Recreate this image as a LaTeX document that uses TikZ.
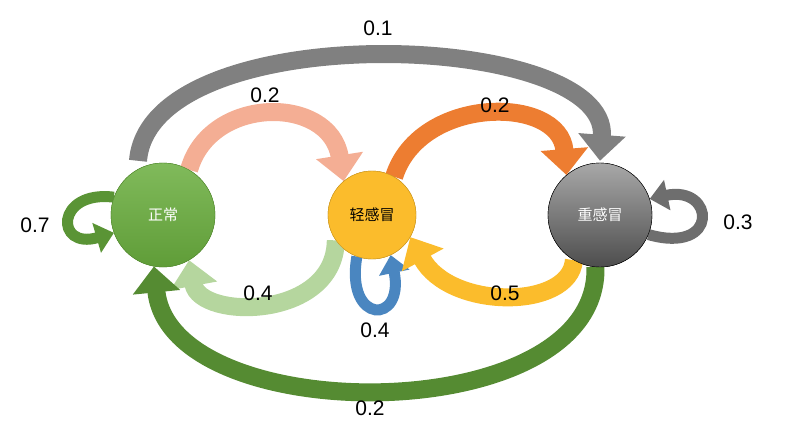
\documentclass[tikz,border=0pt]{standalone}
\usepackage{fontspec}
\setmainfont{Liberation Sans}
\newfontfamily\cjk{Noto Sans CJK SC}
\usetikzlibrary{arrows.meta}
\definecolor{gA}{HTML}{6AAE3E}
\definecolor{yA}{HTML}{FBBC2C}
\definecolor{kA}{HTML}{6E6E6E}
\definecolor{oA}{HTML}{ED7D31}
\definecolor{sA}{HTML}{F4AE94}
\definecolor{bA}{HTML}{4A86C0}
\tikzset{
  st/.style={circle,minimum size=#1,text=white,font=\cjk\fontsize{15}{18}\selectfont},
  fat/.style={line width=18pt,-{Triangle[length=26pt,width=46pt]}},
  loop/.style={line width=11pt,-{Triangle[length=18pt,width=30pt]}},
  lbl/.style={font=\fontsize{21}{25}\selectfont}
}
\begin{document}
\begin{tikzpicture}[x=1pt,y=-1pt]
\useasboundingbox (0,0) rectangle (800,439);
\node[st=104pt,draw=gA!80!black,top color=gA!85!white,bottom color=gA!90!black] (a) at (163,215) {正常};
\node[st=88pt,draw=yA!80!black,fill=yA,text=black] (b) at (372,215) {轻感冒};
\node[st=104pt,draw=black,top color=kA!60!white,bottom color=kA!70!black] (c) at (600,215) {重感冒};
\draw[fat,color=gray] ([shift={(-25,-2)}]a.north) .. controls (150,15) and (610,30) .. ([shift={(0,-2)}]c.north);
\draw[fat,color=sA] (a.60) .. controls (210,95) and (330,95) .. (b.130);
\draw[fat,color=oA] (b.60) .. controls (420,95) and (560,95) .. (c.130);
\draw[loop,color=gA!85!black] (a.160) .. controls (55,190) and (55,250) .. (a.200);
\draw[fat,color=gA!50!white] (b.215) .. controls (335,320) and (200,320) .. (a.-60);
\draw[loop,color=bA] (b.250) .. controls (345,325) and (405,325) .. (b.-65);
\draw[fat,color=yA] (c.240) .. controls (570,310) and (450,310) .. (b.-30);
\draw[loop,color=kA] (c.-22) .. controls (720,255) and (715,185) .. (c.18);
\draw[fat,color=gA!80!black] (c.265) .. controls (600,430) and (170,430) .. (a.-100);
\node[st=104pt,draw=gA!80!black,top color=gA!85!white,bottom color=gA!90!black] at (a) {正常};
\node[st=88pt,draw=yA!80!black,fill=yA,text=black] at (b) {轻感冒};
\node[st=104pt,draw=black,top color=kA!60!white,bottom color=kA!70!black] at (c) {重感冒};
\node[lbl] (l1) at (378,28) {0.1};
\node[lbl] (l2) at (265,95) {0.2};
\node[lbl] (l3) at (495,105) {0.2};
\node[lbl] (l4) at (35,225) {0.7};
\node[lbl] (l5) at (258,293) {0.4};
\node[lbl] (l6) at (375,330) {0.4};
\node[lbl] (l7) at (505,293) {0.5};
\node[lbl] (l8) at (738,222) {0.3};
\node[lbl] (l9) at (370,408) {0.2};
\end{tikzpicture}
\end{document}
